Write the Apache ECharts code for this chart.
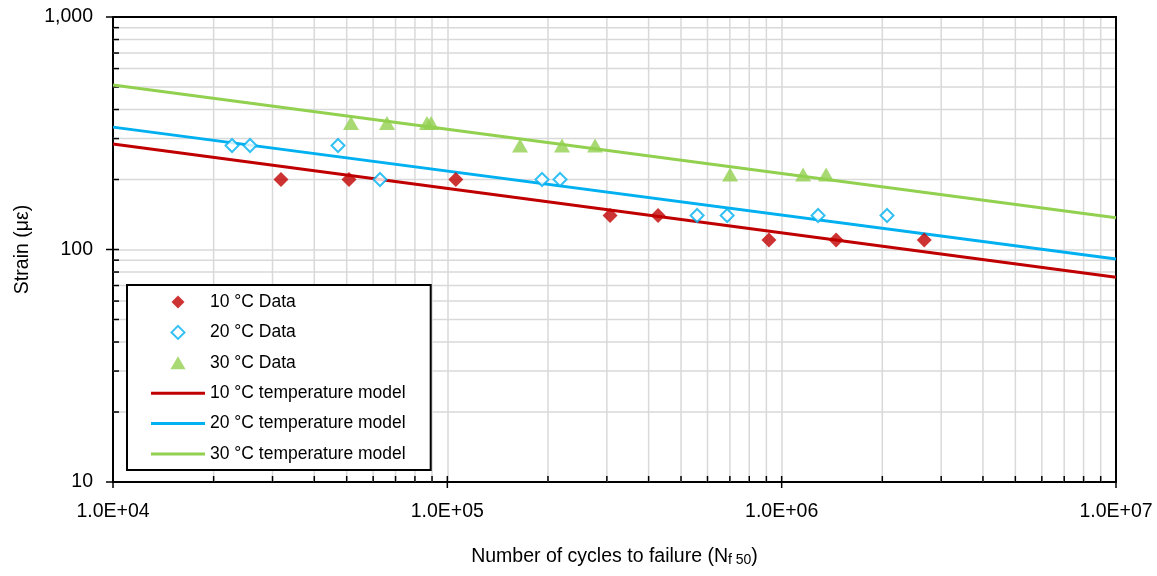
<!DOCTYPE html>
<html>
<head>
<meta charset="utf-8">
<script src="https://cdn.jsdelivr.net/npm/echarts@6/dist/echarts.min.js"></script>
<style>
html,body{margin:0;padding:0;background:#fff;}
#chart{width:1157px;height:576px;}
</style>
</head>
<body>
<div id="chart"></div>
<script>
// ---- data ----
const cycles10 = [31800, 50800, 106000, 306700, 426900, 916000, 1455000, 2670000];
const strain10 = [200, 200, 200, 140, 140, 110, 110, 110];
const cycles20 = [22700, 25700, 47100, 62900, 192000, 217300, 558500, 687000, 1285000, 2066000];
const strain20 = [280, 280, 280, 200, 200, 200, 140, 140, 140, 140];
const cycles30 = [51500, 66000, 86900, 89400, 165000, 220300, 276600, 701000, 1159000, 1358000];
const strain30 = [350, 350, 350, 350, 280, 280, 280, 210, 210, 210];
const modelCycles = [10000, 10000000];
const model10 = [284, 76];
const model20 = [336, 91];
const model30 = [510, 137];
const xDecades = [10000, 100000, 1000000, 10000000];
const yDecades = [10, 100, 1000];
const minorSteps = [2, 3, 4, 5, 6, 7, 8, 9];
const seriesNames = ['10 °C Data', '20 °C Data', '30 °C Data',
  '10 °C temperature model', '20 °C temperature model', '30 °C temperature model'];

const RED = '#C00000', BLUE = '#00B0F0', GREEN = '#92D050';
const FONT = "'Liberation Sans', Arial, sans-serif";

function zip(a, b) { return a.map((v, i) => [v, b[i]]); }

// grid/tick helper items: [x, y, kind]  kind 0=x minor,1=y minor,2=x major,3=y major,4=border
const gridItems = [];
xDecades.slice(0, -1).forEach(d => minorSteps.forEach(m => gridItems.push([d * m, 10, 0])));
yDecades.slice(0, -1).forEach(d => minorSteps.forEach(m => gridItems.push([10000, d * m, 1])));
xDecades.forEach(d => gridItems.push([d, 10, 2]));
yDecades.forEach(d => gridItems.push([10000, d, 3]));
gridItems.push([10000, 10, 4]);

function renderGrid(params, api) {
  const kind = api.value(2);
  const xMin = 10000, xMax = 10000000, yMin = 10, yMax = 1000;
  const grey = { stroke: '#d9d9d9', lineWidth: 1.5 };
  const blk = { stroke: '#000', lineWidth: 1.5 };
  const children = [];
  if (kind === 0) {
    const v = api.value(0);
    const p1 = api.coord([v, yMin]), p2 = api.coord([v, yMax]);
    children.push({ type: 'line', shape: { x1: p1[0], y1: p1[1], x2: p2[0], y2: p2[1] }, style: grey });
    children.push({ type: 'line', shape: { x1: p1[0], y1: p1[1], x2: p1[0], y2: p1[1] - 6 }, style: blk, z2: 10 });
  } else if (kind === 1) {
    const v = api.value(1);
    const p1 = api.coord([xMin, v]), p2 = api.coord([xMax, v]);
    children.push({ type: 'line', shape: { x1: p1[0], y1: p1[1], x2: p2[0], y2: p2[1] }, style: grey });
    children.push({ type: 'line', shape: { x1: p1[0], y1: p1[1], x2: p1[0] + 6, y2: p1[1] }, style: blk, z2: 10 });
  } else if (kind === 2) {
    const p1 = api.coord([api.value(0), yMin]);
    children.push({ type: 'line', shape: { x1: p1[0], y1: p1[1] - 6, x2: p1[0], y2: p1[1] + 6 }, style: blk, z2: 10 });
  } else if (kind === 3) {
    const p1 = api.coord([xMin, api.value(1)]);
    children.push({ type: 'line', shape: { x1: p1[0] - 7, y1: p1[1], x2: p1[0] + 6, y2: p1[1] }, style: blk, z2: 10 });
  } else {
    const a = api.coord([xMin, yMax]), b = api.coord([xMax, yMax]), c = api.coord([xMax, yMin]);
    children.push({ type: 'polyline', shape: { points: [a, b, c] }, style: { stroke: '#000', lineWidth: 2, fill: null }, z2: 10 });
  }
  return { type: 'group', children: children };
}

function fmtExp(v) {
  const e = Math.round(Math.log10(v));
  const m = v / Math.pow(10, e);
  const es = (e < 0 ? '-' : '+') + String(Math.abs(e)).padStart(2, '0');
  return m.toFixed(1) + 'E' + es;
}

const chart = echarts.init(document.getElementById('chart'), null, { renderer: 'canvas' });
chart.setOption({
  animation: false,
  backgroundColor: '#fff',
  textStyle: { fontFamily: FONT },
  grid: { left: 113, top: 17, right: 41, bottom: 94, show: false },
  xAxis: {
    type: 'log', logBase: 10, min: 10000, max: 10000000,
    axisLine: { show: true, lineStyle: { color: '#000', width: 2 } },
    axisTick: { show: false },
    splitLine: { show: true, showMinLine: false, showMaxLine: false, lineStyle: { color: '#d9d9d9', width: 1.5 } },
    axisLabel: { fontSize: 19.5, color: '#000', fontFamily: FONT, margin: 20, formatter: fmtExp },
    name: '{a|Number of cycles to failure (N}{s|f 50}{a|)}',
    nameLocation: 'middle', nameGap: 65,
    nameTextStyle: {
      rich: {
        a: { fontSize: 19.5, fontFamily: FONT, color: '#000', lineHeight: 20, verticalAlign: 'top' },
        s: { fontSize: 14, fontFamily: FONT, color: '#000', lineHeight: 14, verticalAlign: 'bottom', padding: [10, 0, 0, 0] }
      }
    }
  },
  yAxis: {
    type: 'log', logBase: 10, min: 10, max: 1000,
    axisLine: { show: true, lineStyle: { color: '#000', width: 2 } },
    axisTick: { show: false },
    splitLine: { show: true, showMinLine: false, showMaxLine: false, lineStyle: { color: '#d9d9d9', width: 1.5 } },
    axisLabel: { fontSize: 19.5, color: '#000', fontFamily: FONT, margin: 20,
      formatter: v => Math.round(v).toLocaleString('en-US') },
    name: 'Strain (με)', nameLocation: 'middle', nameGap: 80,
    nameTextStyle: { fontSize: 19.5, color: '#000', fontFamily: FONT }
  },
  legend: {
    data: [
      { name: seriesNames[0], icon: 'path://M0,-6L6,0L0,6L-6,0Z', itemStyle: { color: RED, borderWidth: 0 } },
      { name: seriesNames[1], icon: 'path://M0,-6L6,0L0,6L-6,0Z', itemStyle: { color: '#fff', borderColor: BLUE, borderWidth: 2 } },
      { name: seriesNames[2], icon: 'path://M0,-6L7,6L-7,6Z', itemStyle: { color: GREEN, borderWidth: 0 } },
      { name: seriesNames[3], icon: 'path://M0,0H54V3H0Z', itemStyle: { color: RED, borderWidth: 0 } },
      { name: seriesNames[4], icon: 'path://M0,0H54V3H0Z', itemStyle: { color: BLUE, borderWidth: 0 } },
      { name: seriesNames[5], icon: 'path://M0,0H54V3H0Z', itemStyle: { color: GREEN, borderWidth: 0 } }
    ],
    symbolKeepAspect: true,
    orient: 'vertical', left: 127, top: 285,
    backgroundColor: '#fff', borderColor: '#000', borderWidth: 2,
    padding: [7, 25, 6, 24],
    itemWidth: 54, itemHeight: 13, itemGap: 10.4,
    textStyle: { fontSize: 17.5, color: '#000', fontFamily: FONT, lineHeight: 20 }
  },
  series: [
    { type: 'custom', name: 'gridhelper', coordinateSystem: 'cartesian2d', renderItem: renderGrid,
      data: gridItems, silent: true, z: 1, clip: false, encode: { x: 0, y: 1 } },
    { type: 'line', name: seriesNames[3], data: zip(modelCycles, model10), symbol: 'none',
      lineStyle: { color: RED, width: 3 }, itemStyle: { color: RED }, z: 3 },
    { type: 'line', name: seriesNames[4], data: zip(modelCycles, model20), symbol: 'none',
      lineStyle: { color: BLUE, width: 3 }, itemStyle: { color: BLUE }, z: 3 },
    { type: 'line', name: seriesNames[5], data: zip(modelCycles, model30), symbol: 'none',
      lineStyle: { color: GREEN, width: 3 }, itemStyle: { color: GREEN }, z: 3 },
    { type: 'scatter', name: seriesNames[0], data: zip(cycles10, strain10), symbol: 'diamond', symbolSize: 15,
      itemStyle: { color: RED }, z: 5 },
    { type: 'scatter', name: seriesNames[1], data: zip(cycles20, strain20), symbol: 'diamond', symbolSize: 13,
      itemStyle: { color: '#fff', borderColor: BLUE, borderWidth: 2 }, z: 5 },
    { type: 'scatter', name: seriesNames[2], data: zip(cycles30, strain30), symbol: 'triangle', symbolSize: [16, 14],
      itemStyle: { color: GREEN }, z: 5 }
  ]
});
</script>
</body>
</html>
